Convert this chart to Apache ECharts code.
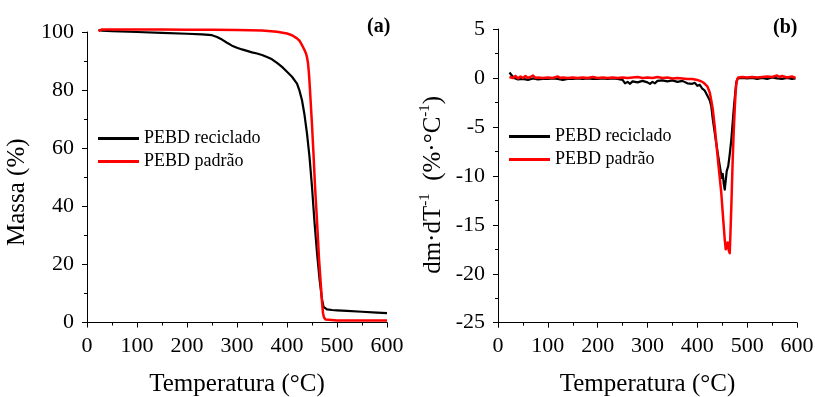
<!DOCTYPE html>
<html>
<head>
<meta charset="utf-8">
<script src="https://cdn.jsdelivr.net/npm/echarts@6/dist/echarts.min.js"></script>
<style>html,body{margin:0;padding:0;background:#fff}#c{width:815px;height:397px}</style>
</head>
<body>
<div id="c"></div>
<script>
// ---- Panel (a): TGA mass loss ----
const tempA_rec = [23,30,50,100,150,200,230,250,260,270,280,290,300,310,320,330,340,350,360,370,380,390,400,410,420,425,430,435,440,445,450,455,460,465,470,473,476,480,490,500,520,550,580,600];
const massA_rec = [100.7,100.5,100.3,100.0,99.7,99.4,99.2,98.9,98.3,97.4,96.3,95.3,94.6,94.0,93.5,93.0,92.6,92.1,91.4,90.6,89.4,88.0,86.3,84.6,82.2,79.8,76.5,71.5,65.0,57.0,46.7,34.5,24.0,15.0,8.0,5.4,4.8,4.5,4.3,4.2,4.0,3.7,3.4,3.2];
const tempA_pad = [23,27,30,50,100,150,200,250,300,350,380,400,410,420,425,430,435,438,440,442,444,446,448,450,453,456,460,464,467,470,472,474,477,480,500,550,600];
const massA_pad = [100.3,100.7,100.9,100.9,100.9,100.9,100.8,100.8,100.7,100.5,100.1,99.5,98.9,97.8,97.0,95.5,93.8,92.6,91.3,89.3,85.5,80.0,74.0,68.0,58.0,47.0,35.0,22.0,14.6,7.0,3.2,1.7,1.0,0.8,0.7,0.7,0.7];

// ---- Panel (b): DTG ----
const tempB_rec = [23,27,32,40,50,60,70,80,90,100,110,120,130,140,150,160,170,180,190,200,210,220,230,240,250,255,260,265,270,280,290,300,305,310,315,320,330,340,350,360,370,380,390,395,400,405,410,415,420,425,428,431,436,441,446,449,451,453,455,457,459,462,465,468,471,474,476,478,481,490,500,510,520,530,540,550,560,570,580,590,597];
const dtgB_rec = [0.55,0.3,0.0,-0.15,-0.1,-0.2,-0.05,-0.15,-0.1,-0.1,-0.05,-0.1,-0.2,-0.1,-0.1,-0.05,-0.1,-0.05,-0.1,-0.1,-0.05,-0.1,-0.05,-0.1,-0.2,-0.55,-0.4,-0.6,-0.35,-0.45,-0.3,-0.45,-0.6,-0.4,-0.55,-0.3,-0.25,-0.35,-0.25,-0.4,-0.3,-0.55,-0.6,-0.5,-0.8,-0.7,-1.1,-1.3,-1.8,-2.3,-2.9,-4.2,-6.0,-7.7,-9.3,-10.2,-9.8,-10.8,-11.4,-10.5,-9.5,-9.0,-7.8,-6.4,-4.5,-2.6,-1.6,-0.5,-0.05,0.0,-0.05,0.0,-0.1,0.0,-0.1,0.05,-0.05,-0.1,0.0,-0.1,-0.05];
const tempB_pad = [23,30,35,40,45,50,55,60,65,70,75,80,90,100,110,120,125,130,140,150,160,170,180,190,200,210,220,230,240,250,260,270,280,290,300,310,320,330,340,350,360,370,380,390,400,410,415,420,425,428,431,435,438,443,448,452,455,457,459,461,463,465,466,468,471,473,475,477,479,482,490,500,510,520,530,540,550,560,565,570,580,590,597];
const dtgB_pad = [0.1,0.0,0.2,-0.05,0.15,0.0,0.2,0.0,0.1,0.25,0.0,0.05,0.0,0.05,0.0,0.15,0.0,0.05,0.0,0.05,0.0,0.05,0.0,0.1,0.0,0.05,0.0,0.05,0.0,0.05,0.0,0.05,0.1,0.0,0.05,0.0,0.1,0.0,0.05,-0.05,0.0,-0.05,-0.1,-0.1,-0.2,-0.4,-0.6,-0.85,-1.5,-2.3,-3.2,-5.0,-6.6,-9.2,-11.7,-14.5,-16.5,-17.5,-17.2,-16.8,-17.6,-17.9,-16.5,-13.5,-8.3,-5.5,-3.2,-1.3,-0.3,0.05,0.1,0.05,0.1,0.05,0.1,0.15,0.1,0.25,0.1,0.2,0.05,0.15,0.0];

const seriesNames = ['PEBD reciclado', 'PEBD padrão'];
const xTitle = 'Temperatura (°C)';
const yTitleA = 'Massa (%)';
const panelLabels = ['(a)', '(b)'];

const zip = (xs, ys) => xs.map((x, i) => [x, ys[i]]);
const FONT = 'Liberation Serif';

function xAxisCfg(gridIndex) {
  return {
    type: 'value', gridIndex, min: 0, max: 600, interval: 100,
    name: xTitle, nameLocation: 'middle', nameGap: 49,
    nameTextStyle: { fontFamily: FONT, fontSize: 25, color: '#000' },
    axisLine: { show: true, onZero: false, lineStyle: { color: '#000', width: 1 } },
    axisTick: { show: true, inside: false, length: 5, lineStyle: { color: '#000' } },
    minorTick: { show: true, splitNumber: 2, length: 3, lineStyle: { color: '#000' } },
    splitLine: { show: false },
    axisLabel: { fontFamily: FONT, fontSize: 22, color: '#000', margin: 13 }
  };
}
function yAxisCfg(gridIndex, min, max, interval) {
  return {
    type: 'value', gridIndex, min, max, interval,
    nameLocation: 'middle',
    axisLine: { show: true, onZero: false, lineStyle: { color: '#000', width: 1 } },
    axisTick: { show: true, inside: false, length: 5, lineStyle: { color: '#000' } },
    minorTick: { show: true, splitNumber: 2, length: 3, lineStyle: { color: '#000' } },
    splitLine: { show: false },
    axisLabel: { fontFamily: FONT, fontSize: 22, color: '#000', margin: 13 }
  };
}

const yA = yAxisCfg(0, 0, 100, 20);
yA.name = yTitleA;
yA.nameGap = 57;
yA.nameTextStyle = { fontFamily: FONT, fontSize: 25, color: '#000', padding: [0, 30, 0, 0] };

const yB = yAxisCfg(1, -25, 5, 5);
yB.name = '{a|dm·dT}{s|-1}{a|  (%·°C}{s|-1}{a|)}';
yB.nameGap = 50;
yB.nameTextStyle = {
  fontFamily: FONT, color: '#000', padding: [0, 18, 0, 0],
  rich: {
    a: { fontFamily: FONT, fontSize: 25, color: '#000', lineHeight: 30 },
    s: { fontFamily: FONT, fontSize: 15, color: '#000', lineHeight: 15, verticalAlign: 'top' }
  }
};

function lineSeries(name, data, xi, color, width) {
  return {
    name, type: 'line', xAxisIndex: xi, yAxisIndex: xi, data,
    showSymbol: false, symbol: 'none', clip: false, animation: false,
    lineStyle: { color, width, join: 'round' }, itemStyle: { color }
  };
}

function legendCfg(left, top) {
  return {
    data: seriesNames, orient: 'vertical', left, top, padding: 0,
    itemGap: 0, itemWidth: 41, itemHeight: 3, icon: 'rect',
    textStyle: { fontFamily: FONT, fontSize: 18, color: '#000', lineHeight: 23 },
    selectedMode: false
  };
}

const option = {
  animation: false,
  backgroundColor: '#fff',
  title: [
    { text: panelLabels[0], left: 367, top: 17, padding: 0, textStyle: { fontFamily: FONT, fontSize: 20, fontWeight: 'bold', color: '#000' } },
    { text: panelLabels[1], left: 773, top: 18, padding: 0, textStyle: { fontFamily: FONT, fontSize: 20, fontWeight: 'bold', color: '#000' } }
  ],
  legend: [legendCfg(98, 127), legendCfg(509, 125)],
  grid: [
    { left: 87, top: 32, width: 300, height: 290.5, containLabel: false, outerBoundsMode: 'none' },
    { left: 498, top: 29, width: 299, height: 293.7, containLabel: false, outerBoundsMode: 'none' }
  ],
  xAxis: [xAxisCfg(0), xAxisCfg(1)],
  yAxis: [yA, yB],
  series: [
    lineSeries(seriesNames[0], zip(tempA_rec, massA_rec), 0, '#000000', 2.2),
    lineSeries(seriesNames[1], zip(tempA_pad, massA_pad), 0, '#ff0000', 2.5),
    lineSeries(seriesNames[0], zip(tempB_rec, dtgB_rec), 1, '#000000', 2.2),
    lineSeries(seriesNames[1], zip(tempB_pad, dtgB_pad), 1, '#ff0000', 2.5)
  ]
};

const chart = echarts.init(document.getElementById('c'), null, { renderer: 'canvas' });
chart.setOption(option);
</script>
</body>
</html>
